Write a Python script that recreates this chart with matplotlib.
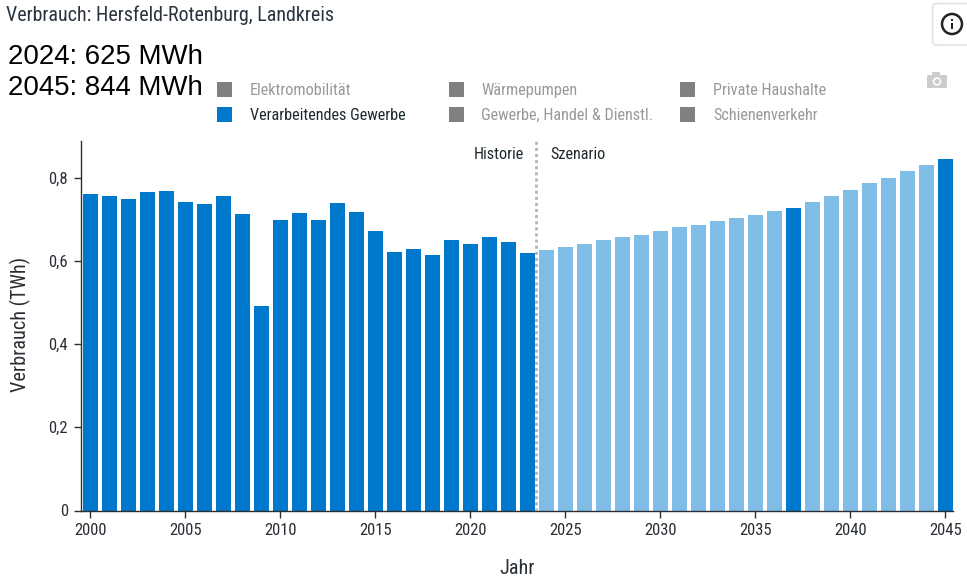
import matplotlib
matplotlib.use("Agg")
import matplotlib.pyplot as plt
from matplotlib.patches import Rectangle, FancyBboxPatch, Circle

plt.rcParams['font.family'] = ['Roboto Condensed', 'DejaVu Sans']

years = list(range(2000, 2046))
values = [0.760, 0.755, 0.748, 0.765, 0.767, 0.740, 0.736, 0.755, 0.712, 0.491,
          0.697, 0.714, 0.697, 0.738, 0.716, 0.671, 0.620, 0.628, 0.613, 0.649,
          0.640, 0.656, 0.644, 0.618,
          0.625, 0.632, 0.640, 0.649, 0.656, 0.663, 0.671, 0.680, 0.687, 0.695,
          0.703, 0.711, 0.719, 0.726, 0.740, 0.755, 0.771, 0.786, 0.800, 0.815,
          0.830, 0.844]
solid_scenario_years = [2037, 2045]
first_scenario_year = 2024
yticks = [0, 0.2, 0.4, 0.6, 0.8]
ytick_labels = ['0', '0,2', '0,4', '0,6', '0,8']
xticks = list(range(2000, 2046, 5))
legend_col1 = ['Elektromobilität', 'Verarbeitendes Gewerbe']
legend_col2 = ['Wärmepumpen', 'Gewerbe, Handel & Dienstl.']
legend_col3 = ['Private Haushalte', 'Schienenverkehr']
BLUE = '#0079cc'
LIGHT = '#7fbce6'
GREY = '#808080'
W, H = 967, 584

fig = plt.figure(figsize=(W/100, H/100), dpi=100, facecolor='white')
L, R, T, B = 80.5, 953, 141, 510.5
ax = fig.add_axes([L/W, 1-B/H, (R-L)/W, (B-T)/H])
ax.set_xlim(1999.48, 2045.4)
ax.set_ylim(0, (B-T)/416.25)
colors = [BLUE if (y < first_scenario_year or y in solid_scenario_years) else LIGHT for y in years]
ax.bar(years, values, width=0.8, color=colors, linewidth=0, zorder=2)
ax.axvline(2023.45, color='#b4b4b4', lw=2, ls=(0, (1.1, 1.1)), zorder=3)
for s in ['top', 'right']:
    ax.spines[s].set_visible(False)
for s in ['left', 'bottom']:
    ax.spines[s].set_color('#2a2f36')
    ax.spines[s].set_linewidth(1)
ax.set_xticks(xticks)
ax.set_yticks(yticks, ytick_labels)
ax.tick_params(axis='both', length=5, width=1, color='#2a2f36', labelcolor='#2a2f36', labelsize=12, pad=4)
ax.set_ylabel('Verbrauch (TWh)', fontsize=14.6, color='#2a2f36')
ax.yaxis.set_label_coords((20.5-L)/(R-L), (B-324.5)/(B-T))
ax.set_xlabel('Jahr', fontsize=14.6, color='#2a2f36')
ax.xaxis.set_label_coords((517.5-L)/(R-L), -(568-B)/(B-T))
ax.xaxis.label.set_va('center')
ax.yaxis.label.set_va('center')

def px(x, y, s, **kw):
    return fig.text(x/W, 1-y/H, s, va='baseline', **kw)

px(6, 21, 'Verbrauch: Hersfeld-Rotenburg, Landkreis', fontsize=14.4, color='#2a3440')
px(8, 63.5, '2024: 625 MWh', fontsize=19.9, color='black', family=['Liberation Sans', 'DejaVu Sans'])
px(8, 95, '2045: 844 MWh', fontsize=19.9, color='black', family=['Liberation Sans', 'DejaVu Sans'])
px(524, 159, 'Historie', fontsize=11.7, color='#1f2a30', ha='right')
px(550, 159, 'Szenario', fontsize=11.7, color='#1f2a30')

for x0, tx, col in [(217, 250, legend_col1), (449, 481, legend_col2), (680, 713, legend_col3)]:
    for i, label in enumerate(col):
        y0 = 82 + i*25
        active = label == 'Verarbeitendes Gewerbe'
        fig.add_artist(Rectangle((x0/W, 1-(y0+15)/H), 15/W, 15/H, transform=fig.transFigure,
                                 fc=BLUE if active else GREY, ec='none'))
        px(tx, y0+13, label, fontsize=11.7, color='#1f2a30' if active else '#999999')

ov = fig.add_axes([0, 0, 1, 1], facecolor='none')
ov.set_xlim(0, W); ov.set_ylim(H, 0); ov.axis('off')
# info button
ov.add_patch(FancyBboxPatch((932.5, 3.5), 60, 41.5, boxstyle='round,pad=0,rounding_size=4', fc='white', ec='#dddddd', lw=1))
ov.add_patch(Circle((952, 24), 10, fc='none', ec='#222222', lw=1.8))
ov.add_patch(Rectangle((951.2, 23), 1.6, 6, fc='#222222', ec='none'))
ov.add_patch(Rectangle((951.2, 19), 1.6, 1.8, fc='#222222', ec='none'))
# camera icon
ov.add_patch(FancyBboxPatch((927, 75), 20, 13, boxstyle='round,pad=0,rounding_size=1.5', fc='#cccccc', ec='none'))
ov.add_patch(Rectangle((932, 72), 8, 3, fc='#cccccc', ec='none'))
ov.add_patch(Circle((937, 81.5), 4.2, fc='white', ec='none'))
ov.add_patch(Circle((937, 81.5), 2.6, fc='#cccccc', ec='none'))

fig.savefig('out.png', dpi=100)
